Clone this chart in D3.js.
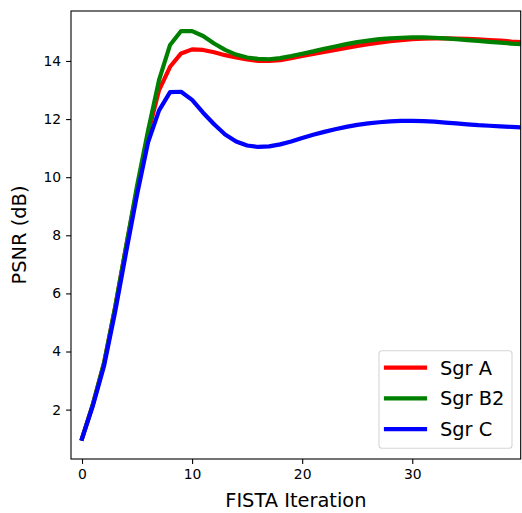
<!DOCTYPE html>
<html><head><meta charset="utf-8">
<script src="https://cdn.jsdelivr.net/npm/d3@7"></script>
<style>body{margin:0;background:#fff}svg{display:block}text{font-family:"DejaVu Sans",sans-serif;fill:#000}</style>
</head><body><div id="c"></div>
<script>
const iterations = d3.range(0, 41);
const sgrA = [1.0,2.2,3.6,5.5,7.6,9.6,11.5,13.0,13.8,14.26,14.4,14.38,14.3,14.2,14.12,14.05,14.0,14.0,14.03,14.1,14.17,14.24,14.31,14.38,14.45,14.52,14.58,14.63,14.68,14.72,14.75,14.77,14.78,14.78,14.77,14.76,14.74,14.72,14.7,14.67,14.65];
const sgrB2 = [1.0,2.2,3.6,5.5,7.6,9.7,11.6,13.35,14.55,15.03,15.03,14.86,14.6,14.38,14.22,14.12,14.07,14.06,14.1,14.17,14.25,14.33,14.42,14.5,14.58,14.65,14.7,14.75,14.78,14.8,14.81,14.81,14.8,14.78,14.75,14.72,14.69,14.66,14.63,14.6,14.58];
const sgrC = [1.0,2.15,3.5,5.35,7.4,9.4,11.2,12.3,12.93,12.94,12.66,12.22,11.82,11.47,11.23,11.09,11.04,11.06,11.13,11.23,11.35,11.46,11.56,11.65,11.73,11.8,11.85,11.89,11.92,11.94,11.94,11.93,11.91,11.88,11.85,11.82,11.79,11.77,11.75,11.73,11.71];
const seriesNames = ["Sgr A","Sgr B2","Sgr C"];
const seriesColors = ["#ff0000","#008000","#0000ff"];
const xTicks = [0,10,20,30];
const yTicks = [2,4,6,8,10,12,14];

const W = 522, H = 513;
const L = 71, R = 520.7, T = 11, B = 459;
const svg = d3.select("#c").append("svg").attr("width", W).attr("height", H);
const x = d3.scaleLinear().domain([-1, 39.85]).range([L, R]);
const y = d3.scaleLinear().domain([0.30, 15.72]).range([B, T]);

svg.append("clipPath").attr("id","clip").append("rect")
  .attr("x", L).attr("y", T).attr("width", R - L).attr("height", B - T);

const line = d3.line().x((d, i) => x(iterations[i])).y(d => y(d));
const all = [sgrA, sgrB2, sgrC];
const g = svg.append("g").attr("clip-path", "url(#clip)");
all.forEach((s, k) => {
  g.append("path").datum(s).attr("d", line)
    .attr("fill", "none").attr("stroke", seriesColors[k])
    .attr("stroke-width", 4.2).attr("stroke-linejoin", "round").attr("stroke-linecap", "square");
});

// axes
const xAxis = d3.axisBottom(x).tickValues(xTicks).tickSize(4.9).tickPadding(4.9).tickFormat(d3.format("d"));
const yAxis = d3.axisLeft(y).tickValues(yTicks).tickSize(4.9).tickPadding(4.9).tickFormat(d3.format("d"));
const gx = svg.append("g").attr("transform", `translate(0,${B})`).call(xAxis);
const gy = svg.append("g").attr("transform", `translate(${L},0)`).call(yAxis);
[gx, gy].forEach(a => {
  a.select(".domain").remove();
  a.selectAll("line").attr("stroke", "#000").attr("stroke-width", 1.1);
  a.selectAll("text").style("font-family", '"DejaVu Sans",sans-serif').style("font-size", "13.9px").attr("fill", "#000");
});
svg.append("rect").attr("x", L).attr("y", T).attr("width", R - L).attr("height", B - T)
  .attr("fill", "none").attr("stroke", "#000").attr("stroke-width", 1.1);

svg.append("text").attr("x", (L + R) / 2).attr("y", 507).attr("text-anchor", "middle")
  .style("font-size", "19.4px").text("FISTA Iteration");
svg.append("text").attr("transform", `translate(26,${(T + B) / 2}) rotate(-90)`).attr("text-anchor", "middle")
  .style("font-size", "19.4px").text("PSNR (dB)");

// legend
const lg = svg.append("g");
lg.append("rect").attr("x", 379).attr("y", 350.7).attr("width", 133).attr("height", 97.6)
  .attr("rx", 3).attr("fill", "#fff").attr("fill-opacity", 0.8).attr("stroke", "#d5d5d5").attr("stroke-width", 1.1);
seriesNames.forEach((n, k) => {
  const yy = 367.7 + k * 30.7;
  lg.append("line").attr("x1", 386).attr("x2", 425).attr("y1", yy).attr("y2", yy)
    .attr("stroke", seriesColors[k]).attr("stroke-width", 4.2).attr("stroke-linecap", "square");
  lg.append("text").attr("x", 440).attr("y", yy + 7).style("font-size", "19.4px").text(n);
});
</script></body></html>
